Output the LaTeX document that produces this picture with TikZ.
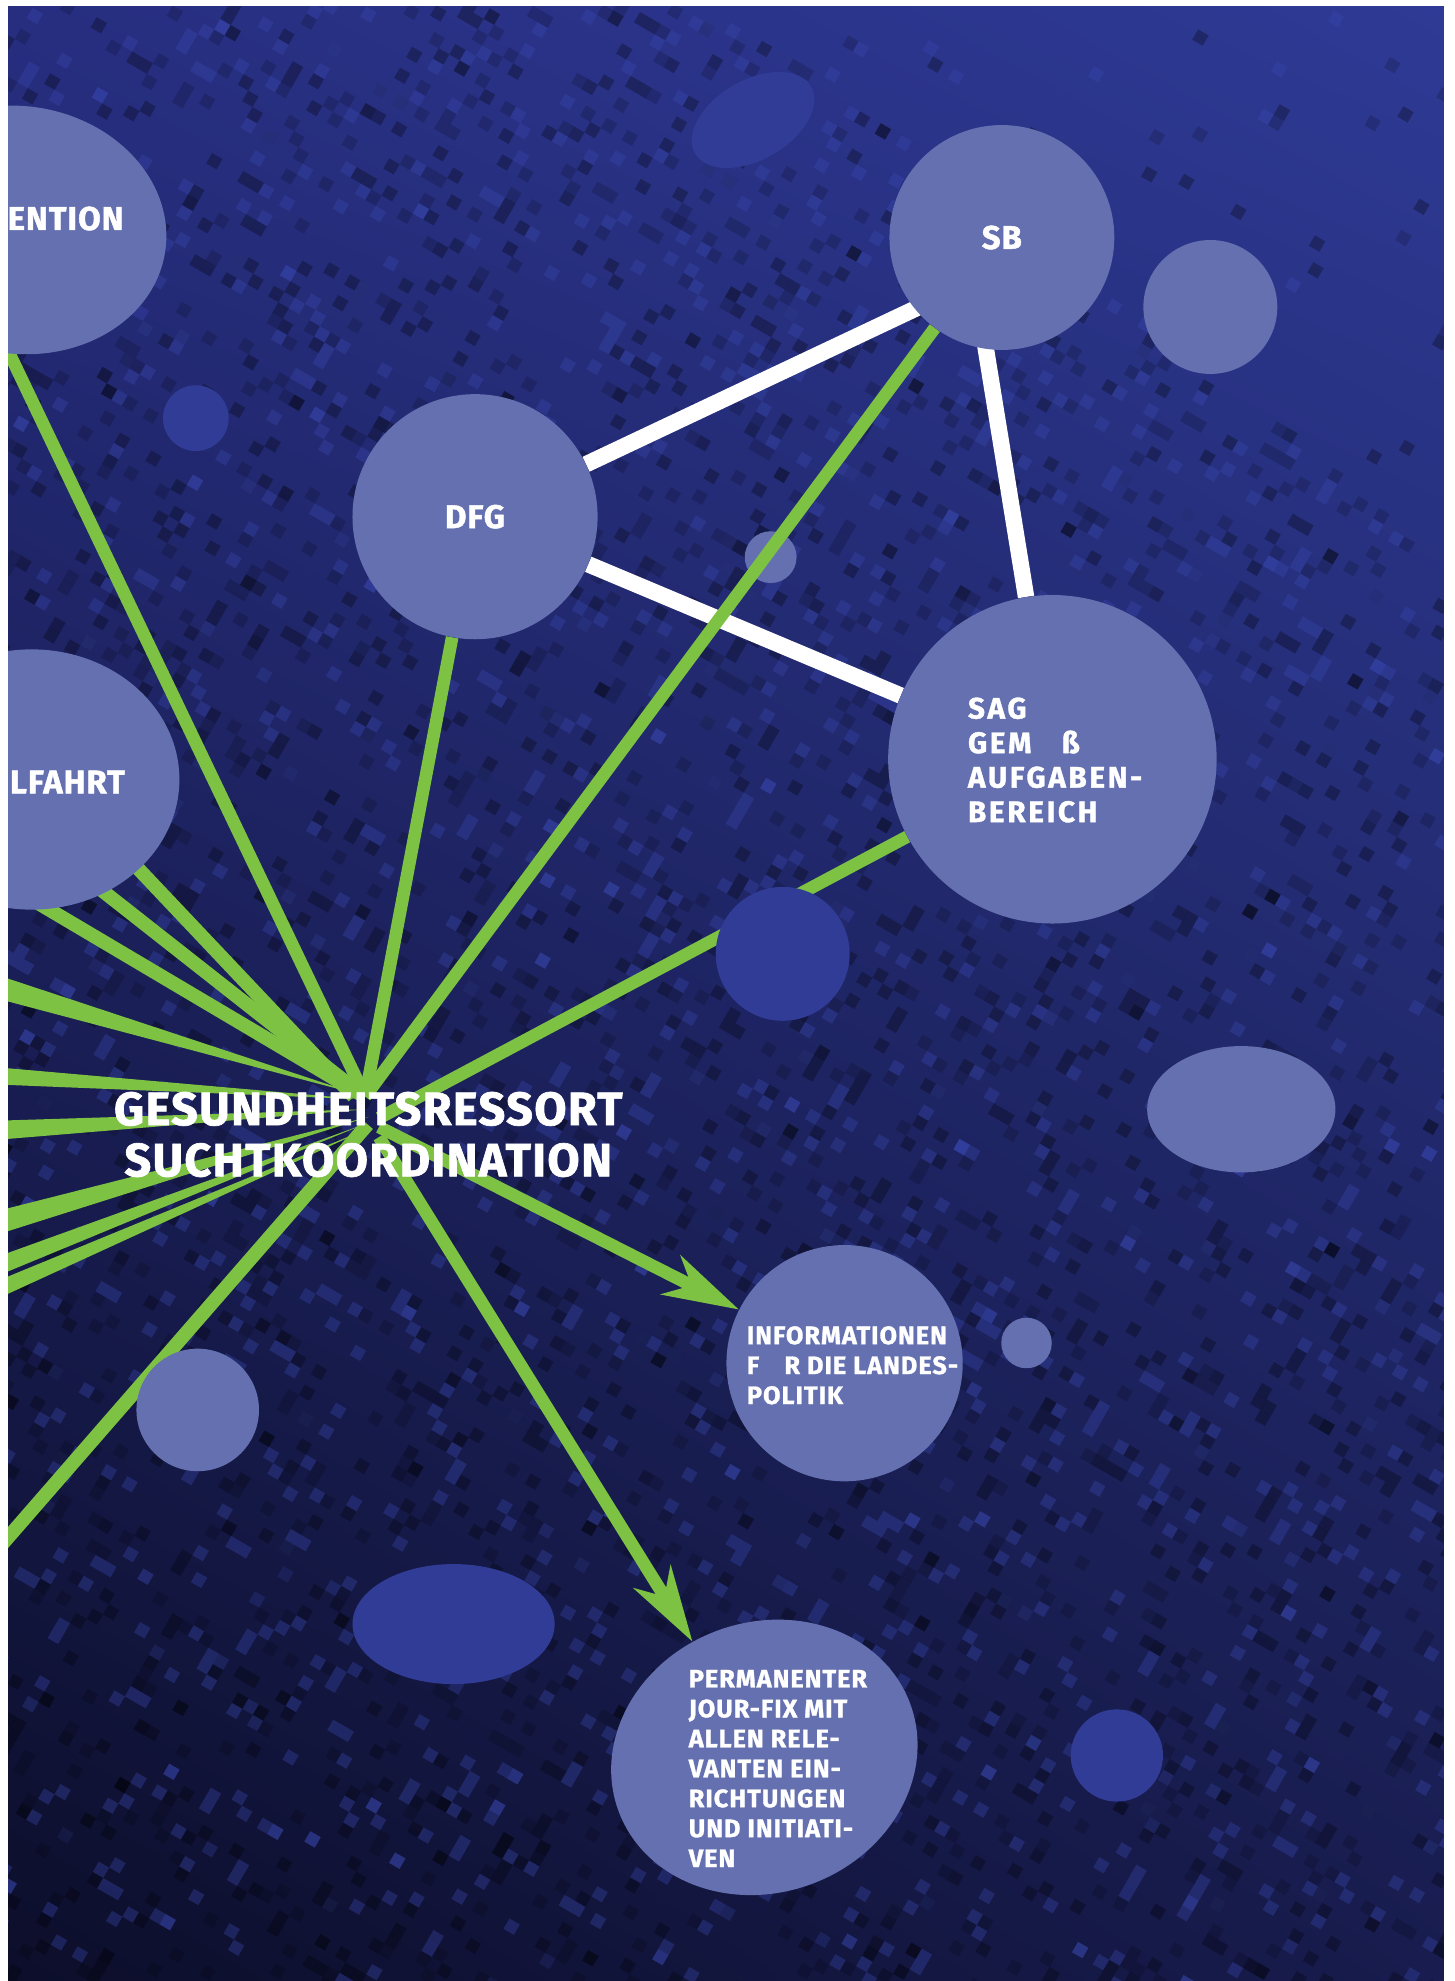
\documentclass[tikz,border=0pt]{standalone}
\usepackage{fontspec}
\setmainfont{Fira Sans}
\newfontfamily\fsHub{Fira Sans}[LetterSpace=3.0, BoldFeatures={FakeBold=1.5}]
\newfontfamily\fsSag{Fira Sans}[LetterSpace=9.0, BoldFeatures={FakeBold=1.3}]
\newfontfamily\fsSmall{Fira Sans}[LetterSpace=4.0, BoldFeatures={FakeBold=1.2}]
\newfontfamily\fsLbl{Fira Sans}[LetterSpace=3.0, BoldFeatures={FakeBold=1.4}]
\usetikzlibrary{shapes.geometric,arrows.meta,calc,shadings}
\pgfdeclarelayer{back}
\pgfdeclarelayer{lines}
\pgfsetlayers{back,lines,main}
\definecolor{cLight}{HTML}{6470B0}
\definecolor{cDark}{HTML}{303C96}
\definecolor{cGreen}{HTML}{7DC242}
\definecolor{bgTL}{HTML}{272E80}
\definecolor{bgTR}{HTML}{2E3A95}
\definecolor{bgBL}{HTML}{0C0E2A}
\definecolor{bgBR}{HTML}{181C4E}
\definecolor{sqLight}{HTML}{3A49B2}
\begin{document}
\begin{tikzpicture}[x=1pt,y=1pt,
  lnode/.style={circle, fill=cLight, inner sep=0pt, text=white},
  dnode/.style={circle, fill=cDark, inner sep=0pt},
  enode/.style={ellipse, fill=cLight, inner sep=0pt},
  denode/.style={ellipse, fill=cDark, inner sep=0pt},
  lbltext/.style={font={\fsLbl\fontsize{26}{30}\selectfont\bfseries}, text=white},
  hubtext/.style={font={\fsHub\fontsize{37}{40.5}\selectfont\bfseries}, text=white, align=center, inner sep=0pt},
  sagtext/.style={font={\fsSag\fontsize{23.5}{27.3}\selectfont\bfseries}, text=white, align=left, inner sep=0pt},
  smtext/.style={font={\fsSmall\fontsize{20}{23.7}\selectfont\bfseries}, text=white, align=left, inner sep=0pt},
  wlink/.style={draw=white, line width=13pt},
  glink/.style={draw=cGreen, line width=10pt},
  gthick/.style={draw=cGreen, line width=11pt},
  gwedge/.style={fill=cGreen},
  garrow/.style={draw=cGreen, line width=10pt, -{Stealth[length=60pt, width=34pt, inset=18pt]}},
  sqdark/.style={fill=black, opacity=.28},
  sqdim/.style={fill=black, opacity=.16},
  sqlite/.style={fill=sqLight, opacity=.35}
]
\useasboundingbox (0,0) rectangle (1151,1568);

% ---------------- background ----------------
\begin{pgfonlayer}{back}
  \shade[upper left=bgTL, upper right=bgTR, lower left=bgBL, lower right=bgBR]
    (6.3,0) rectangle (1143,1563.25);
  \begin{scope}
    \clip (6.3,0) rectangle (1143,1563.25);
    \pgfmathsetseed{11}
    \foreach \k in {1,...,9000}{%
      \pgfmathtruncatemacro{\ii}{random(-94,94)}%
      \pgfmathtruncatemacro{\jj}{random(-102,102)}%
      \pgfmathsetmacro{\xx}{575+9.5*(\ii*0.866+\jj*0.5)}%
      \pgfmathsetmacro{\yy}{784+9.5*(\jj*0.866-\ii*0.5)}%
      \pgfmathtruncatemacro{\keep}{((\xx>-15)&&(\xx<1143)&&(\yy>-15)&&(\yy<1563))?(((\yy+0.75*\xx)>1988)?(rnd<0.1):1):0}%
      \ifnum\keep=1
        \pgfmathtruncatemacro{\cc}{random(1,3)}%
        \ifcase\cc\or
          \fill[sqdark, rotate around={-30:(\xx,\yy)}] (\xx,\yy) rectangle ++(9.5,9.5);
        \or
          \fill[sqlite, rotate around={-30:(\xx,\yy)}] (\xx,\yy) rectangle ++(9.5,9.5);
        \or
          \fill[sqdim, rotate around={-30:(\xx,\yy)}] (\xx,\yy) rectangle ++(9.5,9.5);
        \fi
      \fi
    }
  \end{scope}
  % small circle lying under the green line
  \node[lnode, minimum size=41pt] (dot3) at (610,1127) {};
\end{pgfonlayer}

% ---------------- nodes ----------------
\node[enode, minimum width=234pt, minimum height=196pt, rotate=-8] (ention) at (15,1386) {};
\node[lnode, minimum size=178pt, lbltext] (sb) at (793,1380) {SB};
\node[lnode, minimum size=106pt] (dot1) at (958,1325) {};
\node[denode, minimum width=106pt, minimum height=63pt, rotate=30] (dot2) at (596,1473) {};
\node[dnode, minimum size=52pt] (dot4) at (155,1237) {};
\node[lnode, minimum size=194pt, lbltext] (dfg) at (376,1159) {DFG};
\node[lnode, minimum size=260pt] (sag) at (833,967) {};
\node[enode, minimum width=234pt, minimum height=206pt] (lfahrt) at (25,951) {};
\node[dnode, minimum size=106pt] (dot5) at (619.5,813) {};
\node[enode, minimum width=149pt, minimum height=100pt] (dot6) at (982.5,690) {};
\node[lnode, minimum size=187pt] (info) at (668.5,489) {};
\node[lnode, minimum size=40pt] (dot7) at (812.5,505) {};
\node[lnode, minimum size=97pt] (dot8) at (156.5,452) {};
\node[denode, minimum width=160pt, minimum height=95pt] (dot9) at (359,282.5) {};
\node[enode, minimum width=246pt, minimum height=214pt, rotate=20] (perm) at (605,177) {};
\node[dnode, minimum size=73pt] (dot10) at (884,178.5) {};

% ---------------- texts ----------------
\node[lbltext, inner sep=0pt, anchor=base east] (entiontxt) at (98,1386) {ENTION};
\node[lbltext, inner sep=0pt, anchor=base east] (lfahrttxt) at (99,940) {LFAHRT};
\node[sagtext, anchor=west] (sagtxt) at (766,966.4) {SAG\\GEM\hspace{24pt}ß\\AUFGABEN-\\BEREICH};
\node[smtext, anchor=west] (infotxt) at (591,487.3) {INFORMATIONEN\\F\hspace{20pt}R DIE LANDES-\\POLITIK};
\node[smtext, anchor=west] (permtxt) at (545,168.2) {PERMANENTER\\JOUR-FIX MIT\\ALLEN RELE-\\VANTEN EIN-\\RICHTUNGEN\\UND INITIATI-\\VEN};

% ---------------- hub coordinates ----------------
\coordinate (hA) at (289,700);
\coordinate (hS) at (300,683);
\coordinate (hI) at (300,676);
\coordinate (hP) at (300,668);
\coordinate (hL1) at (280,700);
\coordinate (hL2) at (287,701);
\coordinate (hBL) at (291,678);
\coordinate (e1) at (-3,1310);
\coordinate (l1) at (89,902);
\coordinate (l2) at (60,879.5);
\coordinate (l3) at (20,859.2);
\coordinate (bl) at (-5,338);
\coordinate (sbw1) at (793,1356);
\coordinate (sbw2) at (766,1380);
% wedge ends at the left border
\coordinate (w1a) at (0,795.5) ; \coordinate (w1b) at (0,777) ; \coordinate (w1t) at (283,702);
\coordinate (w2a) at (0,723) ;   \coordinate (w2b) at (0,709.5); \coordinate (w2t) at (285,698);
\coordinate (w3a) at (0,681) ;   \coordinate (w3b) at (0,666) ;  \coordinate (w3t) at (290,690);
\coordinate (w4a) at (0,610) ;   \coordinate (w4b) at (0,591.5); \coordinate (w4t) at (292,684);
\coordinate (w5a) at (0,574) ;   \coordinate (w5b) at (0,559) ;  \coordinate (w5t) at (288,678);
\coordinate (w6a) at (0,555) ;   \coordinate (w6b) at (0,541) ;  \coordinate (w6t) at (292,675);

% ---------------- connectors ----------------
\begin{pgfonlayer}{lines}
  % white links
  \draw[wlink] (dfg) -- (sbw1);
  \draw[wlink] (dfg) -- (sag);
  \draw[wlink] (sag) -- (sbw2);
  % green links
  \draw[glink] (e1) -- (hA);
  \draw[glink] (dfg) -- (hA);
  \draw[glink] (sb) -- (hA);
  \draw[glink] (sag) -- (hS);
  \draw[gthick] (l1) -- (hL1);
  \draw[gthick] (l2) -- (hL2);
  \draw[gthick] (l3) -- (hL2);
  \draw[gthick] (bl) -- (hBL);
  \fill[gwedge] (w1a) -- (w1t) -- (w1b) -- cycle;
  \fill[gwedge] (w2a) -- (w2t) -- (w2b) -- cycle;
  \fill[gwedge] (w3a) -- (w3t) -- (w3b) -- cycle;
  \fill[gwedge] (w4a) -- (w4t) -- (w4b) -- cycle;
  \fill[gwedge] (w5a) -- (w5t) -- (w5b) -- cycle;
  \fill[gwedge] (w6a) -- (w6t) -- (w6b) -- cycle;
  \draw[garrow] (hI) -- (info);
  \draw[garrow] (hP) -- (perm);
\end{pgfonlayer}

% hub label on top of the star
\node[hubtext] (hub) at (291.5,670) {GESUNDHEITSRESSORT\\SUCHTKOORDINATION};

% ---------------- white page margins ----------------
\fill[white] (-2,-2) rectangle (6.3,1570);
\fill[white] (-2,1563.25) rectangle (1153,1570);
\fill[white] (1143,-2) rectangle (1153,1570);
\end{tikzpicture}
\end{document}
